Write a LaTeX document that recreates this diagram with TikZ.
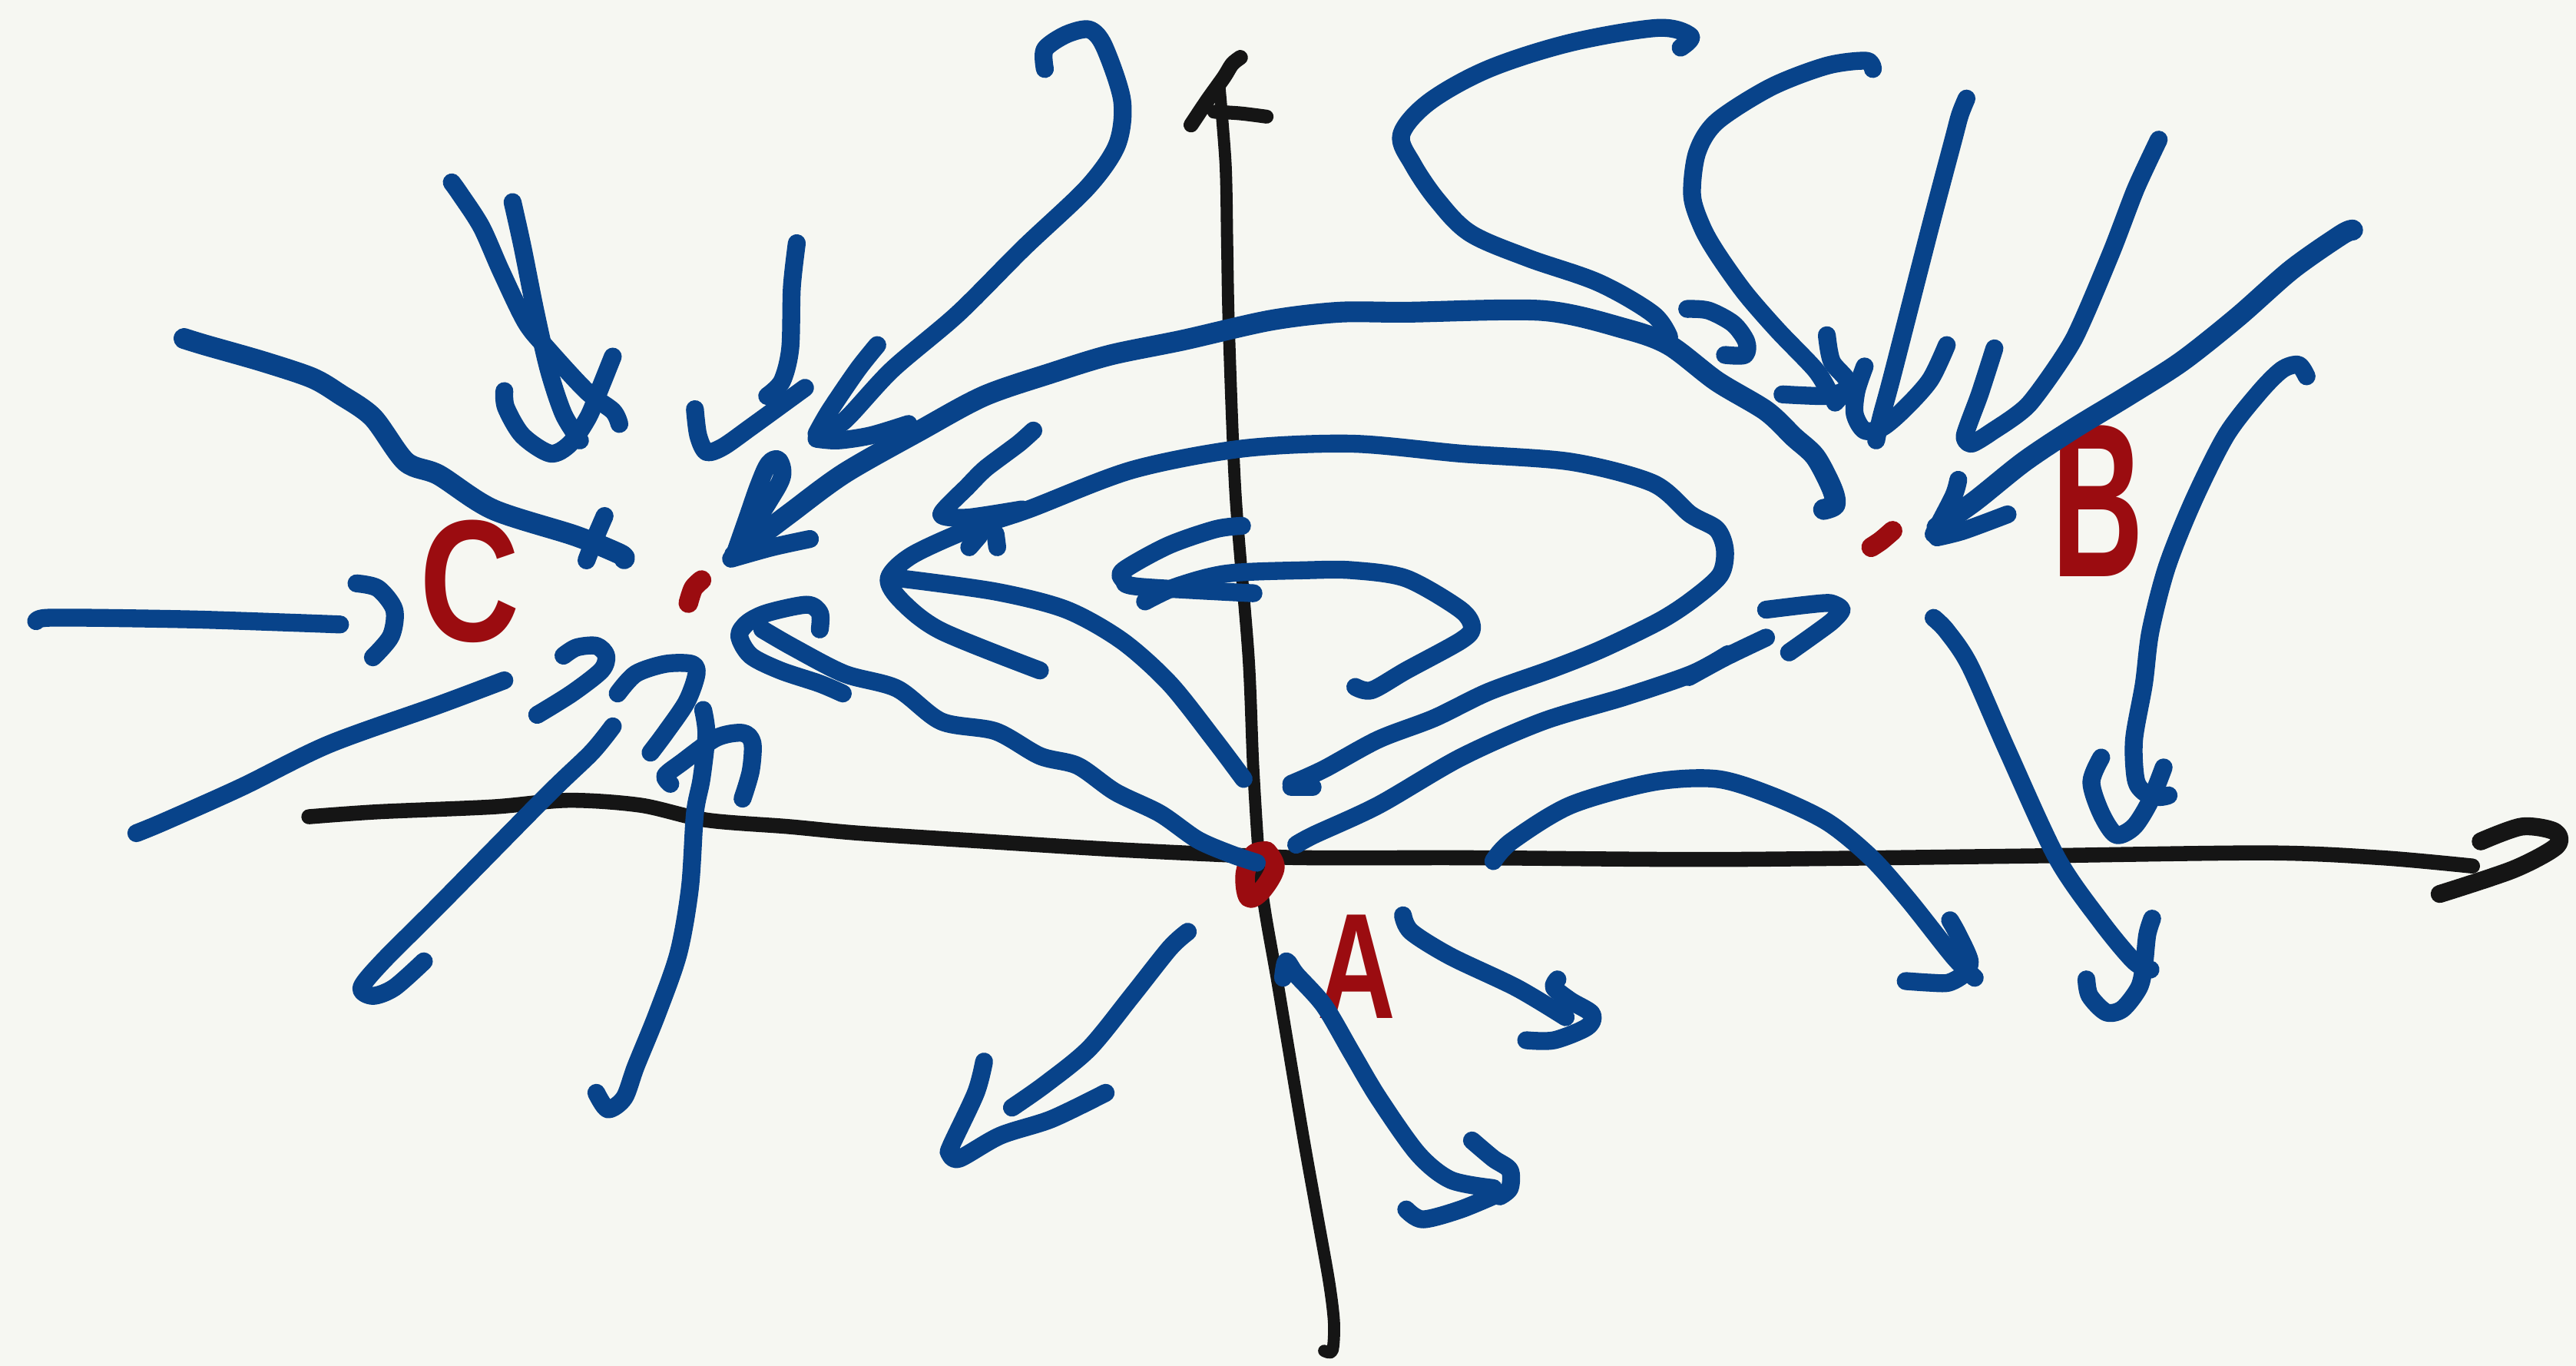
\documentclass[tikz,border=0pt]{standalone}
\usepackage{fontspec}
\newfontfamily\handfont{Liberation Sans}
\definecolor{inkblue}{RGB}{8,67,138}
\definecolor{inkred}{RGB}{155,12,16}
\definecolor{inkblack}{RGB}{21,21,21}
\definecolor{paper}{RGB}{246,247,242}
\tikzset{
  bluestroke/.style={draw=inkblue, line width=3.1pt, line cap=round, line join=round},
  thickblue/.style={bluestroke, line width=3.6pt},
  blackstroke/.style={draw=inkblack, line width=2.6pt, line cap=round, line join=round},
  redstroke/.style={draw=inkred, line width=3.4pt, line cap=round, line join=round},
  redletter/.style={text=inkred, inner sep=0pt},
}
\begin{document}
\begin{tikzpicture}[x=0.01cm, y=-0.01cm]
\fill[paper] (0,0) rectangle (1568,831);
\useasboundingbox (0,0) rectangle (1568,831);

% ---------- black axes ----------
\draw[blackstroke, line width=2.1pt] plot[smooth, tension=0.5] coordinates {(806,822)(811,822)(812,805)(809,780)(801,735)(793,690)(778,600)(768,540)(763,470)(760,400)(752,300)(748,200)(747,150)(746,100)(742,50)};
\draw[blackstroke, line width=2.6pt] plot[smooth, tension=0.5] coordinates {(725,76)(735,61)(745,47)(750,39)(755,35)};
\draw[blackstroke, line width=2.4pt] plot[smooth, tension=0.5] coordinates {(739,68)(755,69)(771,71)};
\draw[blackstroke] plot[smooth, tension=0.5] coordinates {(188,497)(230,494)(300,491)(346,487)(390,490)(430,499)(480,503)(523,507)(600,512)(680,517)(765,521)(800,522)(900,522)(1045,523)(1225,521)(1379,519)(1450,522)(1505,527)};
\draw[blackstroke, line width=3.1pt] plot[smooth, tension=0.5] coordinates {(1510,512)(1535,503)(1555,506)(1556,515)(1530,529)(1485,544)};

% ---------- red marks and letters ----------
\draw[redstroke] plot[smooth, tension=0.6] coordinates {(771,518)(776,528)(768,542)(760,546)(758,532)(763,520)(771,518)};
\draw[redstroke] plot[smooth] coordinates {(427,353)(422,358)(419,367)};
\draw[redstroke] plot[smooth] coordinates {(1152,323)(1145,329)(1139,333)};
\node[redletter, font=\handfont\bfseries\fontsize{30}{32}\selectfont, xscale=0.8] (letterC) at (286,354) {C};
\node[redletter, font=\handfont\bfseries\fontsize{26}{28}\selectfont, xscale=0.72] (letterA) at (826,588) {A};
\node[redletter, font=\handfont\bfseries\fontsize{38}{40}\selectfont, xscale=0.58] (letterB) at (1277,305) {B};

% ---------- blue strokes: upper left ----------
\draw[thickblue] plot[smooth, tension=0.5] coordinates {(112,206)(125,210)(160,220)(190,230)(207,240)(227,254)(247,281)(267,289)(300,310)(350,326)(377,337)(380,340)};
\draw[bluestroke] plot[smooth] coordinates {(368,314)(362,328)(357,341)};
\draw[bluestroke] plot[smooth, tension=0.5] coordinates {(275,111)(280,118)(293,138)(305,165)(320,196)(333,212)(357,238)(373,250)(377,258)};
\draw[bluestroke] plot[smooth, tension=0.5] coordinates {(312,123)(318,150)(326,190)(334,225)(343,252)(353,268)};
\draw[bluestroke] plot[smooth, tension=0.5] coordinates {(307,238)(308,248)(318,265)(335,276)(347,270)(358,254)(365,237)(373,217)};
\draw[bluestroke] plot[smooth, tension=0.5] coordinates {(485,148)(482,175)(481,212)(476,232)(467,241)};
\draw[bluestroke] plot[smooth, tension=0.5] coordinates {(423,249)(425,265)(430,275)(440,272)(457,260)(490,236)};
\draw[bluestroke] plot[smooth, tension=0.5] coordinates {(636,42)(636,30)(649,21)(663,18)(672,28)(683,61)(680,88)(662,114)(623,151)(583,191)(543,225)(514,256)(499,264)};
\draw[bluestroke] plot[smooth, tension=0.5] coordinates {(534,210)(522,225)(505,250)(497,264)};
\draw[bluestroke] plot[smooth, tension=0.5] coordinates {(497,267)(510,268)(530,265)(553,258)};
\draw[thickblue] plot[smooth, tension=0.5] coordinates {(447,338)(480,313)(514,288)(560,262)(599,241)(640,227)(676,216)(720,207)(773,195)(815,190)(856,190)(939,189)(989,200)(1016,210)(1045,232)(1075,250)(1092,266)(1105,278)(1115,297)(1117,307)(1110,310)};
\draw[bluestroke] plot[smooth, tension=0.6] coordinates {(448,335)(455,315)(462,295)(468,282)(474,280)(476,290)(468,305)(455,325)};
\draw[bluestroke] plot[smooth] coordinates {(445,340)(470,333)(493,328)};

% ---------- blue strokes: centre ----------
\draw[bluestroke] plot[smooth, tension=0.55] coordinates {(1023,29)(1029,22)(1009,17)(956,26)(906,42)(870,62)(853,82)(860,100)(875,122)(895,142)(930,157)(973,172)(1006,191)(1016,205)};
\draw[bluestroke] plot[smooth, tension=0.5] coordinates {(786,477)(806,468)(839,450)(873,437)(906,421)(945,407)(975,395)(1010,378)(1030,365)(1047,350)(1050,335)(1045,322)(1029,313)(1006,294)(956,281)(889,276)(823,270)(756,273)(689,286)(626,310)(590,322)(555,338)(541,352)(549,366)(573,384)(633,408)};
\draw[bluestroke] (786,479) -- (799,479);
\draw[bluestroke] plot[smooth, tension=0.5] coordinates {(548,352)(606,360)(649,371)(683,390)(712,416)(739,450)(757,474)};
\draw[bluestroke] plot[smooth, tension=0.4] coordinates {(629,262)(620,270)(600,285)(589,296)(573,313)(589,315)(622,310)};
\draw[bluestroke] (590,333) -- (596,326);
\draw[bluestroke] (607,333) -- (606,325);
\draw[bluestroke] plot[smooth, tension=0.5] coordinates {(756,320)(740,322)(711,332)(684,347)(684,353)(693,357)(763,361)};
\draw[bluestroke] plot[smooth, tension=0.5] coordinates {(697,366)(716,357)(747,349)(795,347)(823,347)(856,352)(889,371)(896,382)(889,390)(856,408)(835,420)(825,418)};
\draw[bluestroke] plot[smooth, tension=0.5] coordinates {(789,514)(800,508)(839,490)(889,461)(939,439)(989,424)(1030,410)(1052,398)};
\draw[bluestroke] plot[smooth] coordinates {(1028,412)(1050,400)(1075,388)};
\draw[bluestroke] plot[smooth, tension=0.4] coordinates {(1075,371)(1100,368)(1114,367)(1121,371)(1114,379)(1089,397)};

% ---------- blue strokes: right ----------
\draw[bluestroke] plot[smooth, tension=0.5] coordinates {(909,524)(920,512)(956,490)(1006,476)(1045,474)(1078,484)(1112,500)(1139,522)(1162,548)(1189,582)(1202,595)};
\draw[bluestroke] plot[smooth, tension=0.5] coordinates {(1187,560)(1192,569)(1199,585)(1195,593)(1186,598)(1175,598)(1160,597)};
\draw[bluestroke] plot[smooth, tension=0.4] coordinates {(1214,212)(1205,240)(1196,265)(1200,270)(1212,263)(1235,246)(1262,207)(1285,154)(1300,115)(1314,85)};
\draw[bluestroke] plot[smooth, tension=0.5] coordinates {(1197,60)(1193,70)(1189,85)(1175,138)(1152,228)(1145,254)(1142,268)};
\draw[bluestroke] plot[smooth, tension=0.5] coordinates {(1135,223)(1130,238)(1129,252)(1135,262)(1146,260)(1160,248)(1175,231)(1185,210)};
\draw[bluestroke] plot[smooth, tension=0.5] coordinates {(1027,188)(1040,189)(1055,197)(1063,208)(1062,216)(1050,216)};
\draw[bluestroke] plot[smooth, tension=0.5] coordinates {(1140,42)(1136,37)(1112,40)(1078,53)(1045,74)(1033,93)(1030,119)(1036,138)(1045,154)(1062,178)(1082,201)(1105,225)(1113,238)};
\draw[bluestroke] plot[smooth] coordinates {(1085,240)(1112,241)(1122,238)};
\draw[bluestroke] plot[smooth, tension=0.5] coordinates {(1112,204)(1115,220)(1125,233)(1117,245)};
\draw[thickblue] plot[smooth, tension=0.5] coordinates {(1432,140)(1425,143)(1395,164)(1362,193)(1328,220)(1295,241)(1262,261)(1232,281)(1202,305)(1179,321)};
\draw[bluestroke] plot[smooth] coordinates {(1192,292)(1189,302)(1177,325)};
\draw[bluestroke] plot[smooth] coordinates {(1179,327)(1195,323)(1222,313)};
\draw[bluestroke] plot[smooth, tension=0.5] coordinates {(1404,229)(1399,222)(1389,225)(1375,239)(1355,265)(1335,305)(1319,345)(1309,384)(1305,416)(1299,450)(1300,474)(1305,482)(1314,485)(1320,484)};
\draw[bluestroke] plot[smooth, tension=0.5] coordinates {(1279,461)(1273,476)(1279,495)(1288,508)(1299,503)(1309,487)(1317,467)};
\draw[bluestroke] plot[smooth, tension=0.5] coordinates {(1177,376)(1185,384)(1199,405)(1222,457)(1252,522)(1279,561)(1299,585)(1309,590)};
\draw[bluestroke] plot[smooth, tension=0.5] coordinates {(1310,559)(1307,569)(1305,588)(1302,601)(1292,614)(1282,616)(1272,606)(1270,596)};

% ---------- blue strokes: left and lower left ----------
\draw[bluestroke] plot[smooth, tension=0.5] coordinates {(22,378)(28,376)(60,376)(120,377)(180,379)(207,380)};
\draw[bluestroke] plot[smooth, tension=0.5] coordinates {(217,355)(230,358)(240,371)(238,387)(227,400)};
\draw[bluestroke] plot[smooth, tension=0.5] coordinates {(83,507)(100,500)(147,479)(200,453)(267,429)(307,414)};
\draw[bluestroke] plot[smooth, tension=0.5] coordinates {(373,442)(360,458)(333,484)(267,551)(233,585)(220,601)(227,606)(240,601)(258,585)};
\draw[bluestroke] plot[smooth, tension=0.5] coordinates {(428,432)(430,447)(427,474)(423,495)(420,540)(413,580)(400,617)(387,649)(380,668)(370,675)(363,665)};
\draw[bluestroke] plot[smooth, tension=0.5] coordinates {(408,477)(405,472)(415,464)(436,449)(452,446)(458,452)(457,469)(452,486)};
\draw[bluestroke] plot[smooth, tension=0.5] coordinates {(396,458)(405,446)(418,427)(424,410)(421,404)(405,404)(387,410)(376,422)};
\draw[bluestroke] plot[smooth, tension=0.5] coordinates {(327,435)(348,422)(366,408)(369,399)(363,393)(351,394)(343,399)};
\draw[bluestroke] plot[smooth, tension=0.5] coordinates {(499,383)(499,373)(491,368)(467,373)(455,379)(450,387)(457,399)(475,408)(499,416)(513,422)};
\draw[bluestroke] plot[smooth, tension=0.5] coordinates {(464,383)(483,394)(514,410)(546,419)(573,439)(606,445)(633,460)(656,466)(679,482)(706,495)(729,511)(750,520)(765,525)};

% ---------- blue strokes: lower centre ----------
\draw[bluestroke] plot[smooth, tension=0.5] coordinates {(723,567)(712,577)(689,606)(663,638)(636,660)(616,674)};
\draw[bluestroke] plot[smooth, tension=0.5] coordinates {(599,646)(594,665)(579,697)(578,702)(584,705)(609,691)(640,681)(673,665)};
\draw[bluestroke] plot[smooth, tension=0.5] coordinates {(781,595)(783,585)(789,593)(806,612)(823,641)(839,668)(863,702)(883,718)(909,723)};
\draw[bluestroke] plot[smooth, tension=0.5] coordinates {(896,694)(909,705)(919,712)(919,723)(913,728)};
\draw[bluestroke] plot[smooth, tension=0.5] coordinates {(856,736)(866,742)(889,736)(913,726)};
\draw[bluestroke] plot[smooth, tension=0.5] coordinates {(854,557)(859,567)(883,582)(923,601)(953,619)};
\draw[bluestroke] plot[smooth, tension=0.5] coordinates {(948,596)(946,601)(956,609)(969,617)(966,625)(946,633)(929,633)};
\end{tikzpicture}
\end{document}
